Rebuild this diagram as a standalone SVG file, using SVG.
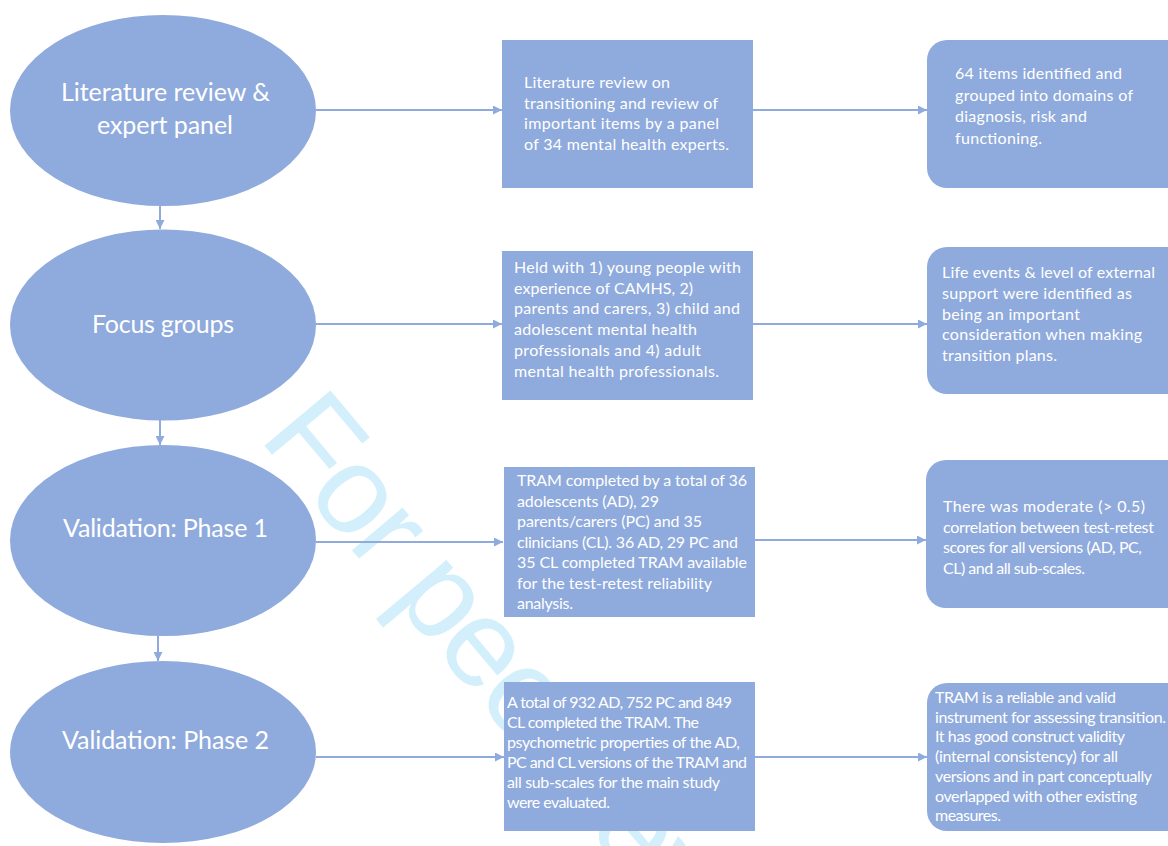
<svg xmlns="http://www.w3.org/2000/svg" width="1168" height="846" viewBox="0 0 1168 846">
<defs>
<style>
.shape{fill:#8FAADC;}
.conn{stroke:#8FAADC;stroke-width:2;fill:none;marker-end:url(#ah);}
.big{font-family:Lato,"Open Sans",sans-serif;font-size:25px;fill:#FFFFFF;}
.t{font-family:Lato,"Open Sans",sans-serif;font-size:16px;fill:#FFFFFF;}
.wm{font-family:"Liberation Sans",Arial,sans-serif;font-size:125px;fill:#D3EFFB;}
</style>
<marker id="ah" viewBox="0 0 10 10" refX="10" refY="5" markerWidth="9" markerHeight="9" markerUnits="userSpaceOnUse" orient="auto">
<path d="M0,0 L10,5 L0,10 z" fill="#8FAADC"/>
</marker>
</defs>
<rect width="1168" height="846" fill="#FFFFFF"/>
<text class="wm" transform="translate(258,438) rotate(50)" letter-spacing="-4">For peer review</text>
<g id="connectors">
<line class="conn" x1="160" y1="206" x2="160" y2="229"/>
<line class="conn" x1="160" y1="420" x2="160" y2="445"/>
<line class="conn" x1="158" y1="636" x2="158" y2="661"/>
<line class="conn" x1="316" y1="110" x2="502" y2="110"/>
<line class="conn" x1="753" y1="110" x2="927" y2="110"/>
<line class="conn" x1="316" y1="324" x2="502" y2="324"/>
<line class="conn" x1="753" y1="324" x2="927" y2="324"/>
<line class="conn" x1="316" y1="542" x2="503" y2="542"/>
<line class="conn" x1="755" y1="540" x2="926" y2="540"/>
<line class="conn" x1="316" y1="757" x2="504" y2="757"/>
<line class="conn" x1="755" y1="757" x2="927" y2="757"/>
</g>
<g id="e1">
<ellipse class="shape" cx="163" cy="110.5" rx="153" ry="95.5"/>
<text class="big" x="61" y="101" textLength="209">Literature review &amp;</text>
<text class="big" x="97" y="134" textLength="136">expert panel</text>
</g>
<g id="e2">
<ellipse class="shape" cx="163" cy="325" rx="153" ry="95.5"/>
<text class="big" x="92" y="333" textLength="142">Focus groups</text>
</g>
<g id="e3">
<ellipse class="shape" cx="163" cy="540.5" rx="153" ry="95.5"/>
<text class="big" x="63" y="537" textLength="205">Validation: Phase 1</text>
</g>
<g id="e4">
<ellipse class="shape" cx="163" cy="752" rx="153" ry="91"/>
<text class="big" x="62" y="749" textLength="207">Validation: Phase 2</text>
</g>
<g id="b1">
<rect class="shape" x="502" y="40" width="251" height="148"/>
<text class="t" x="524" y="88" textLength="146">Literature review on</text>
<text class="t" x="524" y="108.5" textLength="194">transitioning and review of</text>
<text class="t" x="524" y="129" textLength="195">important items by a panel</text>
<text class="t" x="524" y="149.5" textLength="205">of 34 mental health experts.</text>
</g>
<g id="r1">
<rect class="shape" x="927" y="40" width="260" height="148" rx="20"/>
<text class="t" x="955" y="79" textLength="167">64 items identified and</text>
<text class="t" x="955" y="100.5" textLength="178">grouped into domains of</text>
<text class="t" x="955" y="122" textLength="132">diagnosis, risk and</text>
<text class="t" x="955" y="143.5" textLength="87">functioning.</text>
</g>
<g id="b2">
<rect class="shape" x="502" y="251" width="251" height="149"/>
<text class="t" x="514" y="273" textLength="227">Held with 1) young people with</text>
<text class="t" x="514" y="293.7" textLength="179">experience of CAMHS, 2)</text>
<text class="t" x="514" y="314.4" textLength="226">parents and carers, 3) child and</text>
<text class="t" x="514" y="335.1" textLength="183">adolescent mental health</text>
<text class="t" x="514" y="355.8" textLength="187">professionals and 4) adult</text>
<text class="t" x="514" y="376.5" textLength="205">mental health professionals.</text>
</g>
<g id="r2">
<rect class="shape" x="927" y="247" width="260" height="147" rx="20"/>
<text class="t" x="942" y="278" textLength="213">Life events &amp; level of external</text>
<text class="t" x="942" y="298.8" textLength="190">support were identified as</text>
<text class="t" x="942" y="319.6" textLength="138">being an important</text>
<text class="t" x="942" y="340.4" textLength="200">consideration when making</text>
<text class="t" x="942" y="361.2" textLength="115">transition plans.</text>
</g>
<g id="b3">
<rect class="shape" x="504" y="467" width="251" height="150"/>
<text class="t" x="517" y="486" textLength="230">TRAM completed by a total of 36</text>
<text class="t" x="517" y="506.5" textLength="142">adolescents (AD), 29</text>
<text class="t" x="517" y="527" textLength="185">parents/carers (PC) and 35</text>
<text class="t" x="517" y="547.5" textLength="221">clinicians (CL). 36 AD, 29 PC and</text>
<text class="t" x="517" y="568" textLength="230">35 CL completed TRAM available</text>
<text class="t" x="517" y="588.5" textLength="195">for the test-retest reliability</text>
<text class="t" x="517" y="609" textLength="56">analysis.</text>
</g>
<g id="r3">
<rect class="shape" x="926" y="460" width="260" height="148" rx="20"/>
<text class="t" x="943" y="512" textLength="202">There was moderate (&gt; 0.5)</text>
<text class="t" x="943" y="532.7" textLength="211">correlation between test-retest</text>
<text class="t" x="943" y="553.4" textLength="199">scores for all versions (AD, PC,</text>
<text class="t" x="943" y="574.1" textLength="142">CL) and all sub-scales.</text>
</g>
<g id="b4">
<rect class="shape" x="504" y="682" width="251" height="149"/>
<text class="t" x="507" y="708" textLength="225">A total of 932 AD, 752 PC and 849</text>
<text class="t" x="507" y="728" textLength="192">CL completed the TRAM. The</text>
<text class="t" x="507" y="748" textLength="233">psychometric properties of the AD,</text>
<text class="t" x="507" y="768" textLength="240">PC and CL versions of the TRAM and</text>
<text class="t" x="507" y="788" textLength="213">all sub-scales for the main study</text>
<text class="t" x="507" y="808" textLength="103">were evaluated.</text>
</g>
<g id="r4">
<rect class="shape" x="927" y="683" width="260" height="148" rx="20"/>
<text class="t" x="935" y="703" textLength="181">TRAM is a reliable and valid</text>
<text class="t" x="935" y="722.7" textLength="231">instrument for assessing transition.</text>
<text class="t" x="935" y="742.4" textLength="190">It has good construct validity</text>
<text class="t" x="935" y="762.1" textLength="183">(internal consistency) for all</text>
<text class="t" x="935" y="781.8" textLength="217">versions and in part conceptually</text>
<text class="t" x="935" y="801.5" textLength="202">overlapped with other existing</text>
<text class="t" x="935" y="821.2" textLength="66">measures.</text>
</g>
</svg>
